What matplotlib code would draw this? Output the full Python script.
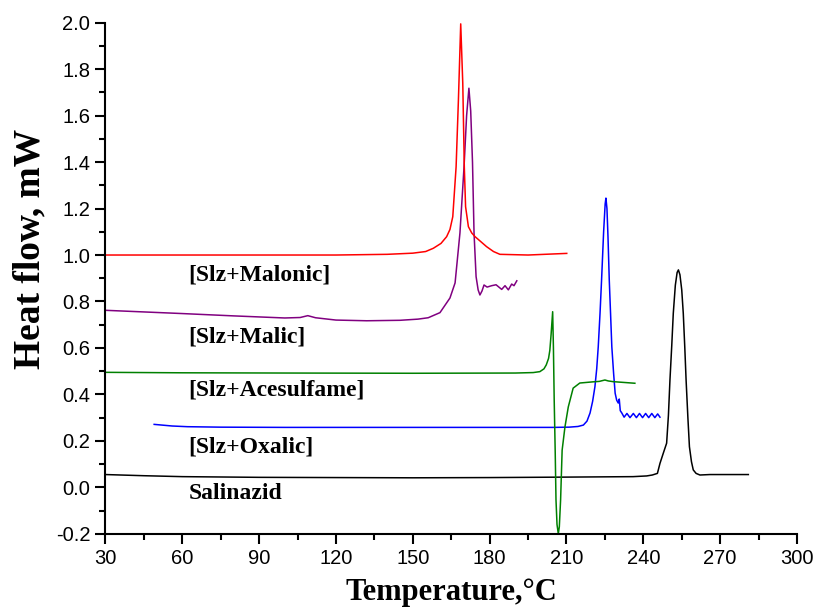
'''DSC curves of salinazid and its salts / cocrystals'''

import matplotlib.pyplot as plt
from matplotlib.ticker import MultipleLocator

# Salinazid (black)
sal_t = [30, 45, 60, 90, 120, 150, 180, 210, 236, 241.3, 243.5, 245.5, 246.5, 247.8, 249.1,
         249.8, 250.4, 251.1, 251.7, 252.5, 253.2, 253.7, 254.3, 255, 255.6, 256.2, 256.7,
         257.4, 258, 258.8, 259.5, 260.6, 262.1, 266, 281]
sal_hf = [0.055, 0.05, 0.046, 0.043, 0.042, 0.041, 0.042, 0.044, 0.046, 0.049, 0.053, 0.06,
          0.103, 0.147, 0.19, 0.31, 0.462, 0.61, 0.749, 0.87, 0.925, 0.936, 0.915, 0.85, 0.749,
          0.6, 0.462, 0.3, 0.175, 0.11, 0.075, 0.06, 0.053, 0.055, 0.055]

# [Slz+Oxalic] (blue)
oxa_t = [49, 52, 56, 62, 75, 100, 130, 160, 190, 205, 211, 214.5, 216.6, 218, 219.2, 220.2,
         221.1, 221.8, 222.4, 223.1, 223.7, 224.5, 225.1, 225.4, 225.8, 226.2, 226.7, 227.2,
         227.7, 228.4, 229, 229.6, 230.2, 230.6, 231, 231.6, 232.5, 233.6, 234.8, 236.1,
         237.3, 238.5, 239.7, 240.9, 242.1, 243.3, 244.5, 245.6, 246.5]
oxa_hf = [0.271, 0.268, 0.264, 0.261, 0.259, 0.258, 0.258, 0.258, 0.258, 0.258, 0.259, 0.262,
          0.268, 0.285, 0.32, 0.37, 0.433, 0.51, 0.605, 0.75, 0.893, 1.1, 1.22, 1.245, 1.2,
          1.08, 0.893, 0.75, 0.605, 0.49, 0.405, 0.375, 0.363, 0.38, 0.33, 0.32, 0.302, 0.318,
          0.3, 0.318, 0.3, 0.318, 0.3, 0.318, 0.3, 0.318, 0.3, 0.316, 0.302]

# [Slz+Acesulfame] (green)
ace_t = [30, 60, 100, 150, 190, 197, 199.6, 201.2, 202.1, 203, 203.5, 204, 204.6, 204.9, 205.2,
         205.6, 205.9, 206.3, 206.8, 207.2, 207.7, 208.3, 209.4, 210.7, 212.6, 215.2, 220.3,
         222.8, 225, 226.3, 228.1, 231.8, 236.7]
ace_hf = [0.495, 0.493, 0.492, 0.491, 0.492, 0.494, 0.498, 0.51, 0.527, 0.555, 0.59, 0.66,
          0.756, 0.6, 0.376, 0.15, -0.054, -0.16, -0.2, -0.17, -0.054, 0.16, 0.26, 0.346,
          0.427, 0.449, 0.454, 0.456, 0.462, 0.458, 0.455, 0.452, 0.448]

# [Slz+Malic] (purple)
mal_t = [30, 45, 60, 80, 100, 106, 109, 112, 120, 132, 145, 152, 156, 160.6, 164.5, 166.5,
         168.4, 170, 171, 171.9, 172.6, 173.3, 173.9, 174.7, 175.5, 176.2, 177, 177.8, 179,
         180.8, 182.5, 184.7, 186, 187.3, 188.6, 189.5, 190.6]
mal_hf = [0.762, 0.755, 0.748, 0.738, 0.729, 0.731, 0.739, 0.73, 0.72, 0.717, 0.719, 0.724,
          0.73, 0.752, 0.815, 0.88, 1.095, 1.38, 1.6, 1.718, 1.62, 1.4, 1.095, 0.907, 0.85,
          0.828, 0.845, 0.871, 0.862, 0.868, 0.872, 0.852, 0.868, 0.85, 0.875, 0.868, 0.889]

# [Slz+Malonic] (red)
mln_t = [30, 60, 90, 120, 140, 150, 155, 158, 161, 163.2, 164.5, 165.6, 166.9, 167.8, 168.7,
         169.5, 170.1, 170.6, 171.7, 173, 174.3, 176.5, 178.8, 181.5, 184, 195, 210.1]
mln_hf = [1.0, 1.0, 1.0, 1.0, 1.003, 1.008, 1.015, 1.029, 1.05, 1.079, 1.11, 1.165, 1.38,
          1.667, 1.995, 1.74, 1.38, 1.208, 1.122, 1.095, 1.079, 1.058, 1.036, 1.015, 1.003,
          1.0, 1.007]

labels = ["[Slz+Malonic]", "[Slz+Malic]", "[Slz+Acesulfame]", "[Slz+Oxalic]", "Salinazid"]
label_y = [0.915, 0.647, 0.418, 0.172, -0.027]

fig = plt.figure(figsize=(8.14, 6.09), dpi=100)
ax = fig.add_axes([0.1296, 0.1235, 0.8495, 0.8392])

ax.plot(sal_t, sal_hf, color="black", lw=1.1)
ax.plot(oxa_t, oxa_hf, color="#0000ff", lw=1.1)
ax.plot(ace_t, ace_hf, color="#008000", lw=1.1)
ax.plot(mal_t, mal_hf, color="#800080", lw=1.1)
ax.plot(mln_t, mln_hf, color="#ff0000", lw=1.1)

for lab, ly in zip(labels, label_y):
    ax.text(62.5, ly, lab, fontsize=17, fontweight="bold", family="Liberation Serif",
            va="center", ha="left")

ax.set_xlim(30, 300)
ax.set_ylim(-0.2, 2.0)
ax.xaxis.set_major_locator(MultipleLocator(30))
ax.xaxis.set_minor_locator(MultipleLocator(15))
ax.yaxis.set_major_locator(MultipleLocator(0.2))
ax.yaxis.set_minor_locator(MultipleLocator(0.1))
ax.yaxis.set_major_formatter(plt.FuncFormatter(lambda v, p: "{:.1f}".format(v)))

for s in ["top", "right"]:
    ax.spines[s].set_visible(False)
for s in ["left", "bottom"]:
    ax.spines[s].set_linewidth(1.5)

ax.tick_params(which="major", direction="out", length=7, width=1.5, labelsize=14.5, pad=4)
ax.tick_params(which="minor", direction="out", length=4, width=1.5)
for t in ax.get_xticklabels() + ax.get_yticklabels():
    t.set_family("Liberation Sans")

ax.set_xlabel("Temperature,°C", fontsize=22, fontweight="bold", family="Liberation Serif",
              labelpad=7)
ax.set_ylabel("Heat flow, mW", fontsize=27, fontweight="bold", family="Liberation Serif")
ax.yaxis.set_label_coords(-0.084, 0.557)

plt.savefig("out.png", dpi=100)
